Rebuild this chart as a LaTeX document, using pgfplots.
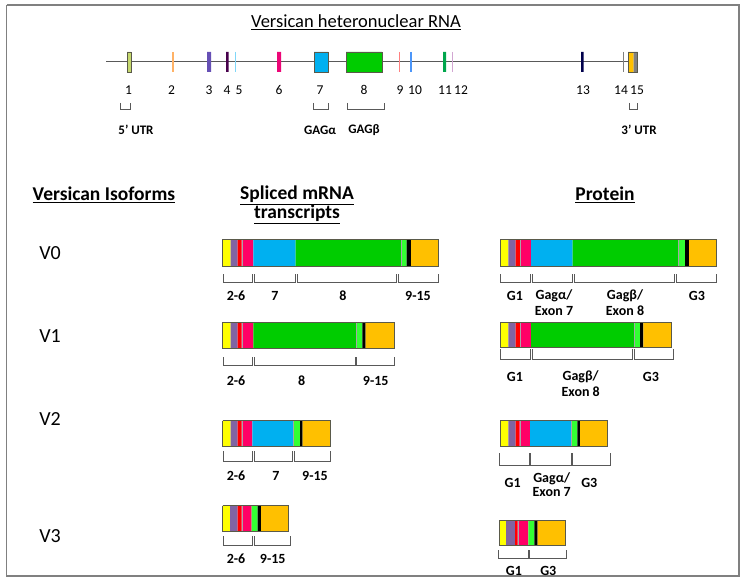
\documentclass[border=0pt]{standalone}
\usepackage{pgfplots}
\pgfplotsset{compat=1.18}
\usepackage{fontspec}
\setmainfont{Carlito}
\definecolor{cY}{HTML}{FFFF00}
\definecolor{cP}{HTML}{8064A2}
\definecolor{cR}{HTML}{FF0000}
\definecolor{cM}{HTML}{FF0066}
\definecolor{cB}{HTML}{00B0F0}
\definecolor{cG}{HTML}{00CC00}
\definecolor{cL}{HTML}{33FF33}
\definecolor{cK}{HTML}{000000}
\definecolor{cO}{HTML}{FFC000}
\definecolor{edge}{HTML}{5A5A4A}
\definecolor{brk}{HTML}{595959}
\definecolor{frame}{HTML}{808080}
\definecolor{ex1}{HTML}{C5D86D}
\newcommand{\rect}[5]{\addplot[fill=#5, draw=none] coordinates {(#1,#3) (#2,#3) (#2,#4) (#1,#4) (#1,#3)};}
\newcommand{\outl}[4]{\addplot[draw=edge, line width=0.8pt] coordinates {(#1,#3) (#2,#3) (#2,#4) (#1,#4) (#1,#3)};}
\newcommand{\sep}[3]{\addplot[draw=gray!70, line width=0.5pt] coordinates {(#1,#2) (#1,#3)};}
\newcommand{\brk}[4]{\addplot[draw=brk, line width=0.9pt] coordinates {(#1,#3) (#1,#4) (#2,#4) (#2,#3)};}
\newcommand{\vl}[4]{\addplot[draw=#4, line width=1.3pt] coordinates {(#1,#2) (#1,#3)};}
\newcommand{\lab}[3]{\node[font=\fontsize{14}{15}\selectfont\bfseries] at (axis cs:#1,#2) {#3};}
\newcommand{\num}[2]{\node[font=\fontsize{13.5}{14}\selectfont] at (axis cs:#1,90) {#2};}
\begin{document}
\begin{tikzpicture}
\begin{axis}[scale only axis, width=747pt, height=583pt, xmin=0, xmax=747, ymin=0, ymax=583,
  y dir=reverse, hide axis, clip=false]
\addplot[draw=none] coordinates {(0,0) (747,583)};
% frame
\addplot[draw=frame, line width=1.6pt] coordinates {(6.5,5) (739,5) (739,576) (6.5,576) (6.5,5)};
% title
\node[font=\fontsize{18.5}{20}\selectfont] at (axis cs:356,22) {\underline{Versican heteronuclear RNA}};
% hnRNA line
\addplot[draw=brk, line width=1pt] coordinates {(106,62) (628,62)};
\rect{127}{131}{52}{72}{ex1}
\outl{127}{131}{52}{72}
\vl{173}{52}{72}{orange!60}
\rect{207}{211}{52}{72}{cP!80!blue}
\rect{226}{228.5}{52}{72}{red!40!black!70!blue}
\vl{235.5}{52}{72}{cB!50}
\rect{277}{281}{52}{72}{magenta!80!red}
\rect{314}{328}{52}{72}{cB}
\outl{314}{328}{52}{72}
\rect{346}{382}{52}{72}{cG}
\outl{346}{382}{52}{72}
\vl{399.5}{52}{72}{red!50}
\vl{411}{52}{72}{cB!60!blue!70}
\rect{443}{446}{52}{72}{green!50!black!70!cyan}
\vl{452.5}{52}{72}{violet!35}
\rect{581}{583.5}{52}{72}{blue!30!black}
\vl{623.5}{52}{72}{gray}
\rect{628}{633.5}{52}{72}{cO}
\rect{633.5}{637.5}{52}{72}{gray}
\outl{628}{637.5}{52}{72}
\num{128.5}{1}\num{171.5}{2}\num{209}{3}\num{227}{4}\num{239}{5}\num{279}{6}
\num{320}{7}\num{364}{8}\num{400}{9}\num{415}{10}\num{445}{11}\num{461}{12}
\num{583}{13}\num{621}{14}\num{637}{15}
\brk{120}{130.5}{103}{109}
\brk{313.5}{328.5}{103}{109}
\brk{347}{384}{103}{109}
\brk{629}{637.5}{103}{109}
\node[font=\fontsize{13}{14}\selectfont\bfseries] at (axis cs:136,130) {5' UTR};
\node[font=\fontsize{13}{14}\selectfont\bfseries] at (axis cs:320,130) {GAGα};
\node[font=\fontsize{13}{14}\selectfont\bfseries] at (axis cs:364,130) {GAGβ};
\node[font=\fontsize{13}{14}\selectfont\bfseries] at (axis cs:639,130) {3' UTR};
% headings
\node[font=\fontsize{19.5}{21}\selectfont\bfseries] at (axis cs:104,195) {\underline{Versican Isoforms}};
\node[font=\fontsize{19.5}{21}\selectfont\bfseries] at (axis cs:297,195) {\underline{Spliced mRNA}};
\node[font=\fontsize{19.5}{21}\selectfont\bfseries] at (axis cs:297,214) {\underline{transcripts}};
\node[font=\fontsize{19.5}{21}\selectfont\bfseries] at (axis cs:605,195) {\underline{Protein}};
\node[font=\fontsize{20}{22}\selectfont] at (axis cs:50,253) {V0};
\node[font=\fontsize{20}{22}\selectfont] at (axis cs:50,336) {V1};
\node[font=\fontsize{20}{22}\selectfont] at (axis cs:50,419) {V2};
\node[font=\fontsize{20}{22}\selectfont] at (axis cs:50,536) {V3};
% ===== V0 mRNA
\rect{222.7}{230.7}{239}{266}{cY}\rect{230.7}{237.7}{239}{266}{cP}\rect{237.7}{241.7}{239}{266}{cR}
\rect{241.7}{253.3}{239}{266}{cM}\rect{253.3}{295.7}{239}{266}{cB}\rect{295.7}{401.7}{239}{266}{cG}
\rect{401.7}{406.7}{239}{266}{cL}\rect{406.7}{411}{239}{266}{cK}\rect{411}{438.3}{239}{266}{cO}
\sep{242}{239}{266}\sep{401.7}{239}{266}
\outl{222.7}{438.3}{239}{266}
\brk{223}{252}{274}{282}\brk{254}{295}{274}{282}\brk{297}{396}{274}{282}\brk{398}{438}{274}{282}
\lab{236}{296}{2-6}\lab{275}{296}{7}\lab{343}{296}{8}\lab{418}{296}{9-15}
% ===== V0 protein
\rect{500.7}{508.3}{239}{266}{cY}\rect{508.3}{515.7}{239}{266}{cP}\rect{515.7}{520}{239}{266}{cR}
\rect{520}{531}{239}{266}{cM}\rect{531}{572.7}{239}{266}{cB}\rect{572.7}{678.3}{239}{266}{cG}
\rect{678.3}{685}{239}{266}{cL}\rect{685}{689}{239}{266}{cK}\rect{689}{716}{239}{266}{cO}
\sep{520.5}{239}{266}\sep{678.3}{239}{266}
\outl{500.7}{716}{239}{266}
\brk{500.7}{530}{274}{282}\brk{532}{572.5}{274}{282}\brk{574}{674}{274}{282}\brk{676}{716}{274}{282}
\lab{515}{296}{G1}\lab{554}{296}{Gagα/}\lab{554}{311}{Exon 7}\lab{625}{296}{Gagβ/}\lab{625}{311}{Exon 8}\lab{697}{296}{G3}
% ===== V1 mRNA
\rect{222.7}{230.7}{322}{348}{cY}\rect{230.7}{237.7}{322}{348}{cP}\rect{237.7}{241.7}{322}{348}{cR}
\rect{241.7}{253.3}{322}{348}{cM}\rect{253.3}{356.7}{322}{348}{cG}
\rect{356.7}{362.3}{322}{348}{cL}\rect{362.3}{365.7}{322}{348}{cK}\rect{365.7}{394}{322}{348}{cO}
\sep{242}{322}{348}\sep{356.7}{322}{348}
\outl{222.7}{394}{322}{348}
\brk{223.3}{252.5}{357}{365}\brk{254}{355}{357}{365}\brk{356.5}{394.3}{357}{365}
\lab{236}{381}{2-6}\lab{301.7}{381}{8}\lab{375.7}{381}{9-15}
% ===== V1 protein
\rect{500.7}{508.3}{322.3}{347.7}{cY}\rect{508.3}{515.7}{322.3}{347.7}{cP}\rect{515.7}{520}{322.3}{347.7}{cR}
\rect{520}{531}{322.3}{347.7}{cM}\rect{531}{634}{322.3}{347.7}{cG}
\rect{634}{640}{322.3}{347.7}{cL}\rect{640}{643.3}{322.3}{347.7}{cK}\rect{643.3}{671}{322.3}{347.7}{cO}
\sep{520.5}{322.3}{347.7}\sep{634}{322.3}{347.7}
\outl{500.7}{671}{322.3}{347.7}
\brk{500.7}{530.7}{349}{359}\brk{532.7}{632.3}{349}{359}\brk{634.3}{673.3}{349}{359}
\lab{515}{377}{G1}\lab{580.7}{377}{Gagβ/}\lab{580.7}{392}{Exon 8}\lab{651}{377}{G3}
% ===== V2 mRNA
\rect{222.7}{230.7}{420.7}{446.7}{cY}\rect{230.7}{237.7}{420.7}{446.7}{cP}\rect{237.7}{241.7}{420.7}{446.7}{cR}
\rect{241.7}{252.3}{420.7}{446.7}{cM}\rect{252.3}{293.3}{420.7}{446.7}{cB}
\rect{293.3}{300}{420.7}{446.7}{cL}\rect{300}{302.7}{420.7}{446.7}{cK}\rect{302.7}{330.7}{420.7}{446.7}{cO}
\sep{242}{420.7}{446.7}\sep{293.3}{420.7}{446.7}
\outl{222.7}{330.7}{420.7}{446.7}
\brk{223.3}{252.7}{451}{461.7}\brk{254}{292.7}{451}{461.7}\brk{294}{330}{451}{461.7}
\lab{236}{476}{2-6}\lab{276}{476}{7}\lab{315}{476}{9-15}
% ===== V2 protein
\rect{500}{508.3}{420.7}{446.7}{cY}\rect{508.3}{515.7}{420.7}{446.7}{cP}\rect{515.7}{519.3}{420.7}{446.7}{cR}
\rect{519.3}{530}{420.7}{446.7}{cM}\rect{530}{571}{420.7}{446.7}{cB}
\rect{571}{577.3}{420.7}{446.7}{cL}\rect{577.3}{580}{420.7}{446.7}{cK}\rect{580}{607.3}{420.7}{446.7}{cO}
\sep{520}{420.7}{446.7}\sep{571}{420.7}{446.7}
\outl{500}{607.3}{420.7}{446.7}
\brk{499.3}{529.3}{453}{465}\brk{530.3}{571}{453}{465}\brk{572.5}{610.7}{453}{465}
\lab{512.7}{483}{G1}\lab{551.7}{478.3}{Gagα/}\lab{551.7}{492}{Exon 7}\lab{589.3}{483}{G3}
% ===== V3 mRNA
\rect{222.7}{230}{505.7}{531.7}{cY}\rect{230}{237.7}{505.7}{531.7}{cP}\rect{237.7}{241.7}{505.7}{531.7}{cR}
\rect{241.7}{251.7}{505.7}{531.7}{cM}
\rect{251.7}{257.7}{505.7}{531.7}{cL}\rect{257.7}{261}{505.7}{531.7}{cK}\rect{261}{288.3}{505.7}{531.7}{cO}
\sep{242}{505.7}{531.7}
\outl{222.7}{288.3}{505.7}{531.7}
\brk{223.3}{252.7}{536}{545}\brk{254}{290}{536}{545}
\lab{236}{558.5}{2-6}\lab{272.7}{558.5}{9-15}
% ===== V3 protein
\rect{499.3}{506}{520}{545}{cY}\rect{506}{515}{520}{545}{cP}\rect{515}{517.7}{520}{545}{cR}
\rect{517.7}{528.3}{520}{545}{cM}
\rect{528.3}{534.3}{520}{545}{cL}\rect{534.3}{537.7}{520}{545}{cK}\rect{537.7}{565}{520}{545}{cO}
\sep{518.5}{520}{545}
\outl{499.3}{565}{520}{545}
\brk{498.3}{528.3}{550}{558}\brk{529.3}{566}{550}{558}
\lab{514}{570.7}{G1}\lab{548.3}{570.7}{G3}
\end{axis}
\end{tikzpicture}
\end{document}
